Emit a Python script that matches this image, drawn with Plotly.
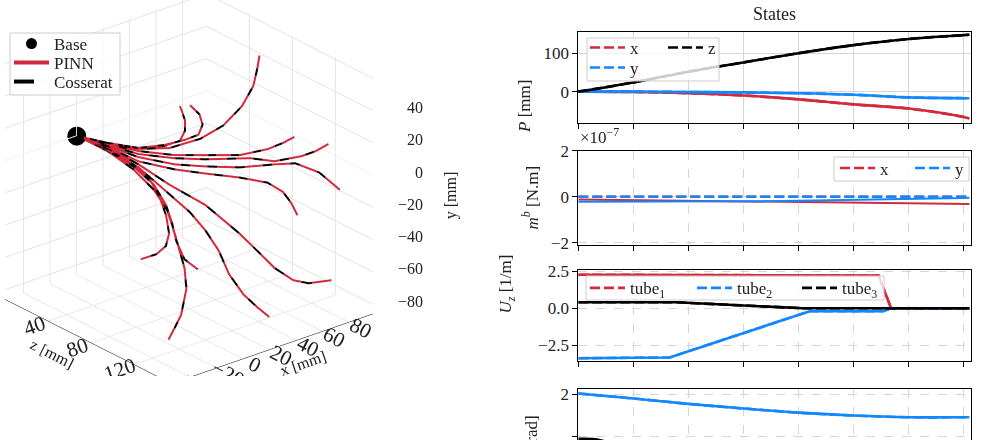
import plotly.graph_objects as go

RED = "#d22a3c"
BLUE = "#1287ff"
BLACK = "#000000"
FONT = "Liberation Serif, DejaVu Serif, serif"
TXT = "#222222"
W, H = 982, 440

# ---------------- 3D tube shapes (mm) ----------------
shape_z = [
    [0, 20, 35, 48, 58, 65, 70, 74, 77, 79],
    [0, 20, 35, 45, 50, 52, 52, 51, 50],
    [0, 20, 35, 45, 52, 56, 58, 58, 57],
    [0, 20, 38, 58, 75, 92, 105, 112, 118],
    [0, 20, 40, 60, 78, 98, 110, 122, 128, 134],
    [0, 20, 40, 60, 78, 96, 112, 122, 135, 148],
    [0, 20, 40, 60, 78, 96, 110, 120, 126, 132],
    [0, 20, 40, 58, 78, 98, 108, 118, 128, 136, 146],
    [0, 20, 40, 58, 75, 86, 96, 106, 118, 128, 136],
    [0, 20, 38, 52, 64, 75, 84, 90, 92, 92],
    [0, 20, 38, 54, 68, 80, 90, 100, 110],
    [0, 20, 38, 54, 68, 82, 98, 110, 122, 134],
]
shape_x = [
    [0, 7.1, 18.4, 31.2, 46.5, 58.0, 68.1, 73.4, 74.1, 74.0],
    [0, 7.1, 18.4, 29.7, 37.4, 39.7, 39.7, 38.2, 37.4],
    [0, 7.1, 18.4, 29.7, 39.7, 46.6, 48.1, 45.7, 39.5],
    [0, 7.1, 15.9, 26.9, 36.5, 48.4, 59.0, 65.0, 68.7],
    [0, 7.1, 14.2, 25.3, 34.0, 51.4, 60.3, 70.9, 76.9, 81.4],
    [0, 7.1, 14.2, 25.3, 34.0, 45.2, 58.7, 66.2, 73.6, 78.6],
    [0, 7.1, 14.2, 25.3, 34.0, 45.2, 54.9, 58.4, 59.8, 59.6],
    [0, 7.1, 14.2, 23.0, 34.0, 43.5, 48.7, 53.8, 59.7, 64.9, 73.9],
    [0, 7.1, 14.2, 19.1, 24.7, 27.5, 29.5, 29.1, 30.3, 32.2, 35.1],
    [0, 7.1, 12.0, 12.2, 10.2, 6.7, 1.7, -5.6, -14.3, -26.1],
    [0, 7.1, 12.0, 14.5, 12.4, 7.3, 2.2, 0.3, 2.3],
    [0, 7.1, 12.0, 14.5, 13.2, 8.0, 2.0, -6.3, -20.1, -39.3],
]
shape_y = [
    [0, 0.3, -1.6, -0.3, 4.5, 11.8, 22.6, 35.0, 47.1, 55.3],
    [0, 0.3, -1.0, 0.4, 3.1, 9.4, 15.7, 21.5, 24.5],
    [0, 0.3, -1.0, 1.0, 3.7, 6.3, 12.8, 19.8, 26.9],
    [0, -0.4, -1.2, -0.1, 2.9, 5.2, 10.3, 14.8, 19.5],
    [0, -1.0, -1.9, -0.9, 2.0, 4.5, 4.1, 8.3, 11.8, 16.9],
    [0, -1.6, -3.8, -4.7, -2.4, -0.1, 3.3, 5.2, 1.8, -5.9],
    [0, -2.2, -6.4, -7.8, -6.8, -6.4, -7.6, -10.9, -16.2, -21.7],
    [0, -2.9, -8.2, -17.3, -26.3, -39.9, -48.7, -57.5, -63.3, -64.0, -61.3],
    [0, -3.5, -10.1, -19.3, -29.1, -37.5, -47.3, -58.3, -67.2, -72.0, -76.4],
    [0, -3.5, -8.3, -11.9, -18.0, -25.9, -32.8, -36.4, -38.3, -38.1],
    [0, -4.1, -9.6, -16.2, -23.6, -29.5, -35.4, -42.9, -46.4],
    [0, -4.7, -11.4, -19.4, -26.9, -36.5, -49.6, -55.9, -64.4, -70.1],
]
base_xyz = [0.0, 0.0, 0.0]

# 3D axis ranges / tick labels (mm)
range_x3 = [-54, 98]
range_y3 = [-86, 61]
range_z3 = [0, 155]
ticks_z3 = [40, 80, 120]
ticks_y3 = [-80, -60, -40, -20, 0, 20, 40]

# ---------------- States along the arc ----------------
s_p = [0, 1, 2, 3, 4, 5, 6, 7, 7.1]
P_x = [0, -1, -4, -10, -20, -33, -44, -66, -70]
P_y = [0, 0, -1, -2, -4, -8, -15, -17, -17]
P_z = [0, 24, 52, 76, 100, 121, 137, 147, 148]

s_m = [0, 1, 2, 3, 4, 5, 6, 7, 7.1]
m_x_pinn = [-0.12, -0.15, -0.18, -0.2, -0.24, -0.28, -0.3, -0.32, -0.32]
m_y_pinn = [-0.22, -0.22, -0.21, -0.2, -0.18, -0.15, -0.1, -0.06, -0.05]
m_x_coss = [0, 0, 0, 0, 0, 0, 0, 0, 0]
m_y_coss = [0, 0, 0, 0, 0, 0, 0, 0, 0]

s_u1 = [0, 5.0, 5.45, 5.68, 7.1]
u_tube1 = [2.25, 2.25, 2.2, 0.0, 0.0]
s_u2 = [0, 1.66, 4.2, 5.53, 5.68, 7.1]
u_tube2 = [-3.35, -3.3, -0.2, -0.2, 0.0, 0.0]
s_u3 = [0, 1.78, 4.08, 7.1]
u_tube3 = [0.4, 0.4, 0.0, 0.0]

s_a = [0, 1, 2, 3, 4, 5, 6, 7, 7.1]
a_blue = [2.02, 1.9, 1.77, 1.66, 1.56, 1.49, 1.45, 1.45, 1.45]
s_a3 = [0, 0.4, 1.0]
a_black = [0.93, 0.9, 0.6]

fig = go.Figure()

# ---------------- 3D traces ----------------
for i in range(len(shape_z)):
    fig.add_trace(go.Scatter3d(
        x=shape_z[i], y=shape_x[i], z=shape_y[i], mode="lines",
        line=dict(color=RED, width=4), name="PINN",
        showlegend=(i == 0), legend="legend5", scene="scene"))
for i in range(len(shape_z)):
    fig.add_trace(go.Scatter3d(
        x=shape_z[i], y=shape_x[i], z=shape_y[i], mode="lines",
        line=dict(color=BLACK, width=4, dash="longdash"), name="Cosserat",
        showlegend=(i == 0), legend="legend6", scene="scene"))
fig.add_trace(go.Scatter3d(
    x=[base_xyz[2]], y=[base_xyz[0]], z=[base_xyz[1]], mode="markers",
    marker=dict(color=BLACK, size=11), name="Base", showlegend=True,
    legend="legend", scene="scene"))

DASH = "10px,4px"


def add2d(x, y, color, xa, ya, name=None, legend=None, dashed=False,
          width=2.6, shape="spline", lw=None):
    kw = {}
    if lw is not None:
        kw["legendwidth"] = lw
    fig.add_trace(go.Scatter(
        x=x, y=y, mode="lines", xaxis=xa, yaxis=ya,
        line=dict(color=color, width=width, dash=DASH if dashed else "solid", shape=shape),
        name=name, showlegend=legend is not None, legend=legend or "legend2", **kw))


# Panel 1: P
add2d(s_p, P_x, RED, "x2", "y2")
add2d(s_p, P_x, RED, "x2", "y2", "x", "legend2", True, lw=28)
add2d(s_p, P_y, BLUE, "x2", "y2")
add2d(s_p, P_y, BLUE, "x2", "y2", "y", "legend7", True, lw=10)
add2d(s_p, P_z, BLACK, "x2", "y2")
add2d(s_p, P_z, BLACK, "x2", "y2", "z", "legend2", True, lw=10)

# Panel 2: m^b
add2d(s_m, m_x_pinn, RED, "x3", "y3", width=2, shape="linear")
add2d(s_m, m_x_coss, RED, "x3", "y3", "x", "legend3", True, shape="linear", lw=25)
add2d(s_m, m_y_pinn, BLUE, "x3", "y3", width=2, shape="linear")
add2d(s_m, m_y_coss, BLUE, "x3", "y3", "y", "legend3", True, shape="linear", lw=10)

# Panel 3: U_z
add2d(s_u1, u_tube1, RED, "x4", "y4", shape="linear")
add2d(s_u1, u_tube1, RED, "x4", "y4", "tube<sub>1</sub>", "legend4", True, shape="linear", lw=57)
add2d(s_u2, u_tube2, BLUE, "x4", "y4", shape="linear")
add2d(s_u2, u_tube2, BLUE, "x4", "y4", "tube<sub>2</sub>", "legend4", True, shape="linear", lw=55)
add2d(s_u3, u_tube3, BLACK, "x4", "y4", shape="linear")
add2d(s_u3, u_tube3, BLACK, "x4", "y4", "tube<sub>3</sub>", "legend4", True, shape="linear", lw=40)

# Panel 4
add2d(s_a3, a_black, BLACK, "x5", "y5")
add2d(s_a, a_blue, BLUE, "x5", "y5")
add2d(s_a, a_blue, BLUE, "x5", "y5", dashed=True)

XDOM = [0.5889, 0.9888]
tickfont = dict(family=FONT, size=17, color=TXT)


def xax(anchor, dash, top=False):
    d = dict(domain=XDOM, anchor=anchor, range=[0, 7.13], tickvals=list(range(8)),
             showticklabels=False, ticks="" if top else "outside", ticklen=5, tickcolor="black",
             showline=True, linecolor="black", linewidth=1, mirror=not top, automargin=False,
             showgrid=True, gridcolor="#d6d6d6", gridwidth=1, griddash=dash, zeroline=False)
    if top:
        d["side"] = "top"
    return d


def yax(anchor, dom, rng, tv, tt, dash):
    return dict(domain=dom, anchor=anchor, range=rng, tickvals=tv, ticktext=tt,
                ticks="outside", ticklen=5, tickcolor="black", tickfont=tickfont,
                showline=True, linecolor="black", linewidth=1, mirror=True, automargin=False,
                showgrid=True, gridcolor="#d6d6d6", gridwidth=1, griddash=dash, zeroline=False)


ax3 = dict(showbackground=False, gridcolor="#e2e2e2", showline=True, linecolor="black",
           tickfont=dict(family=FONT, size=16, color=TXT))


def leg(px, py, horizontal=False):
    d = dict(x=px / W, y=1 - py / H, xanchor="left", yanchor="middle",
             bgcolor="rgba(0,0,0,0)", borderwidth=0, itemwidth=35,
             font=dict(family=FONT, size=17, color=TXT))
    if horizontal:
        d["orientation"] = "h"
    return d


def box(x0, y0, x1, y1):
    return dict(type="rect", xref="paper", yref="paper", x0=x0 / W, x1=x1 / W,
                y0=1 - y1 / H, y1=1 - y0 / H, fillcolor="rgba(255,255,255,0.8)",
                line=dict(color="#cccccc", width=1), layer="above")


# vertical (y) axis labels of the 3D view, placed on the right-hand edge
scene_ann = [dict(x=range_z3[1], y=range_x3[1], z=t, text=str(t).replace("-", "−"),
                  showarrow=False, xanchor="right", xshift=52, yshift=3,
                  font=dict(family=FONT, size=16, color=TXT)) for t in ticks_y3]
scene_ann.append(dict(x=range_z3[1], y=range_x3[1], z=(range_y3[0] + range_y3[1]) / 2,
                      text="y [mm]", showarrow=False, textangle=-90, xshift=78, yshift=0,
                      font=dict(family=FONT, size=16, color=TXT)))

fig.update_layout(
    width=W, height=H, margin=dict(l=0, r=0, t=0, b=0, autoexpand=False),
    paper_bgcolor="white", plot_bgcolor="white", showlegend=True,
    font=dict(family=FONT, size=17, color=TXT),
    scene=dict(
        domain=dict(x=[0, 0.385], y=[0.1455, 1]),
        xaxis=dict(title=dict(text="z [mm]", font=dict(family=FONT, size=16, color=TXT)),
                   range=range_z3, tickvals=ticks_z3, **ax3),
        yaxis=dict(title=dict(text="x [mm]", font=dict(family=FONT, size=16, color=TXT)),
                   range=range_x3, **ax3),
        zaxis=dict(range=range_y3, title=dict(text=""),
                   **{**ax3, "showline": False, "showticklabels": False}),
        aspectmode="manual", aspectratio=dict(x=1.39, y=1.39, z=1.39),
        camera=dict(eye=dict(x=1.4, y=-1.158, z=0.836), projection=dict(type="orthographic")),
        annotations=scene_ann,
    ),
    xaxis2=xax("y2", "solid"),
    yaxis2=yax("x2", [0.7205, 0.9280], [-81.5, 156], [0, 100], ["0", "100"], "solid"),
    xaxis3=xax("y3", "dash"),
    yaxis3=yax("x3", [0.4432, 0.6575], [-2.1, 2.0], [-2, 0, 2], ["−2", "0", "2"], "dash"),
    xaxis4=xax("y4", "dash"),
    yaxis4=yax("x4", [0.1795, 0.3864], [-3.54, 2.57], [-2.5, 0, 2.5], ["−2.5", "0.0", "2.5"], "dash"),
    xaxis5=xax("y5", "dash", top=True),
    yaxis5=yax("x5", [0, 0.1152], [0.904, 2.12], [1, 2], ["1", "2"], "dash"),
    legend=leg(9, 44),
    legend5=leg(9, 63),
    legend6=leg(9, 82),
    legend2=leg(585, 48, True),
    legend7=leg(585, 68, True),
    legend3=leg(835, 168.5, True),
    legend4=leg(585, 288.3, True),
    shapes=[
        box(10, 33, 120, 95),
        box(587, 38, 719, 81),
        box(834, 157, 969, 181),
        box(586, 276, 884, 300),
    ],
    annotations=[
        dict(text="States", x=0.7887, y=0.968, xref="paper", yref="paper", showarrow=False,
             font=dict(family=FONT, size=18, color=TXT), xanchor="center", yanchor="middle"),
        dict(text="<i>P</i> [mm]", x=0.5346, y=0.8239, xref="paper", yref="paper", showarrow=False,
             textangle=-90, font=dict(family=FONT, size=17, color=TXT)),
        dict(text="<i>m</i><sup><i>b</i></sup> [N.m]", x=0.5397, y=0.5511, xref="paper", yref="paper",
             showarrow=False, textangle=-90, font=dict(family=FONT, size=17, color=TXT)),
        dict(text="<i>U</i><sub><i>z</i></sub> [1/m]", x=0.5163, y=0.2818, xref="paper", yref="paper",
             showarrow=False, textangle=-90, font=dict(family=FONT, size=17, color=TXT)),
        dict(text="<i>θ</i> [rad]", x=0.5418, y=0.0614, xref="paper", yref="paper", yanchor="top",
             showarrow=False, textangle=-90, font=dict(family=FONT, size=17, color=TXT)),
        dict(text="×10<sup>−7</sup>", x=0.5886, y=0.6614, xref="paper", yref="paper", xanchor="left",
             yanchor="bottom", showarrow=False, font=dict(family=FONT, size=17, color=TXT)),
    ],
)

fig.write_html("out.html")
